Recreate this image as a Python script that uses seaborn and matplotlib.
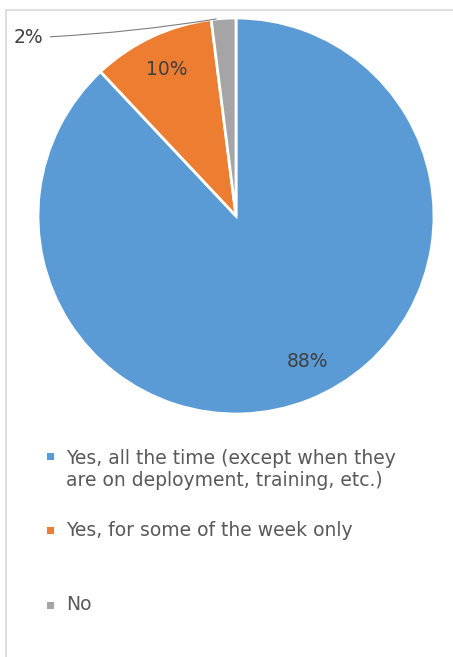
import numpy as np
import matplotlib
matplotlib.use("Agg")
import matplotlib.pyplot as plt
from matplotlib.lines import Line2D
from matplotlib.patches import Rectangle
import seaborn as sns

sns.set_theme(style="white")
plt.rcParams['font.family'] = ['DejaVu Sans']

labels = ["Yes, all the time (except when they\nare on deployment, training, etc.)",
          "Yes, for some of the week only",
          "No"]
shares = [88, 10, 2]
colors = ["#5B9BD5", "#ED7D31", "#A5A5A5"]

W, H = 453, 657
fig = plt.figure(figsize=(W / 100, H / 100), dpi=100)

# outer chart frame (only top and left edges visible)
fig.add_artist(Line2D([6 / W, 6 / W], [0, 1 - 10 / H], color="#D9D9D9", lw=1.2))
fig.add_artist(Line2D([6 / W, 1], [1 - 10 / H, 1 - 10 / H], color="#D9D9D9", lw=1.2))

# pie axes: center (236, 216) px, radius 198 px
cx, cy, r = 236, 216, 198
ax = fig.add_axes([(cx - r) / W, 1 - (cy + r) / H, 2 * r / W, 2 * r / H])
wedges, _, autotexts = ax.pie(
    shares, colors=colors, startangle=90, counterclock=False,
    autopct=lambda p: f"{p:.0f}%", pctdistance=0.82,
    wedgeprops=dict(edgecolor="white", linewidth=2),
    textprops=dict(color="#404040", fontsize=13.5))
ax.set_xlim(-1, 1)
ax.set_ylim(-1, 1)
ax.set_aspect("auto")

# big slice label sits a bit closer to the x axis than the mid angle
autotexts[0].set_position((0.36, -0.735))

# the smallest slice label sits outside with a leader line
w = wedges[2]
ang = np.deg2rad(w.theta1 + 0.8 * (w.theta2 - w.theta1))
autotexts[2].set_visible(False)
ax.annotate(f"{shares[2]}%", xy=(np.cos(ang), np.sin(ang)),
            xytext=(-1.05, 0.9), ha="center", va="center",
            color="#404040", fontsize=13.5, annotation_clip=False,
            arrowprops=dict(arrowstyle="-", color="#7F7F7F", lw=0.8,
                            shrinkA=3, shrinkB=0,
                            connectionstyle="arc3,rad=0.03"))

# legend drawn as text rows
rows_y = [469.5, 530, 605]
mark_y = [456, 530, 605]
for lab, col, y, my in zip(labels, colors, rows_y, mark_y):
    fig.add_artist(Rectangle((47 / W, 1 - (my + 3.5) / H), 7 / W, 7 / H,
                             facecolor=col, edgecolor="none"))
    fig.text(66 / W, 1 - y / H, lab, ha="left", va="center",
             color="#595959", fontsize=13.5, linespacing=1.25,
             transform=fig.transFigure)

fig.savefig("out.png", dpi=100)
